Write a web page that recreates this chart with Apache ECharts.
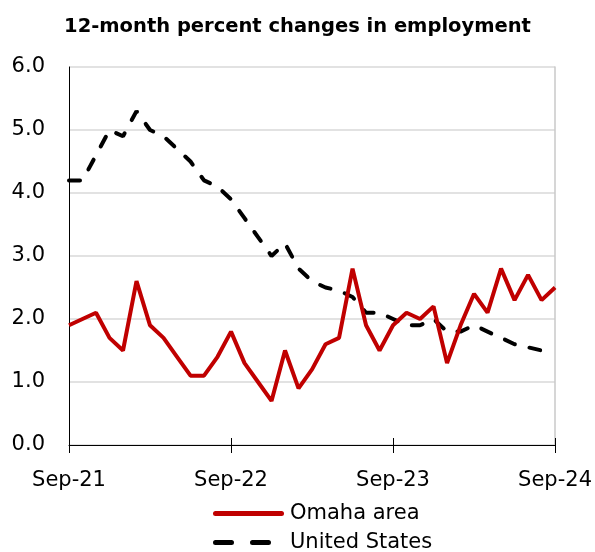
<!DOCTYPE html>
<html>
<head>
<meta charset="utf-8">
<script src="https://cdn.jsdelivr.net/npm/echarts@6/dist/echarts.min.js"></script>
<style>
  html, body { margin: 0; padding: 0; background: #fff; }
  #chart { width: 595px; height: 552px; }
</style>
</head>
<body>
<div id="chart"></div>
<script>
// months Sep-21 .. Sep-24
var months = ['Sep-21','Oct-21','Nov-21','Dec-21','Jan-22','Feb-22','Mar-22','Apr-22','May-22','Jun-22','Jul-22','Aug-22',
    'Sep-22','Oct-22','Nov-22','Dec-22','Jan-23','Feb-23','Mar-23','Apr-23','May-23','Jun-23','Jul-23','Aug-23',
    'Sep-23','Oct-23','Nov-23','Dec-23','Jan-24','Feb-24','Mar-24','Apr-24','May-24','Jun-24','Jul-24','Aug-24','Sep-24'];

var omaha = [1.9, 2.0, 2.1, 1.7, 1.5, 2.6, 1.9, 1.7, 1.4, 1.1, 1.1, 1.4,
    1.8, 1.3, 1.0, 0.7, 1.5, 0.9, 1.2, 1.6, 1.7, 2.8, 1.9, 1.5,
    1.9, 2.1, 2.0, 2.2, 1.3, 1.9, 2.4, 2.1, 2.8, 2.3, 2.7, 2.3, 2.5];

var unitedStates = [4.2, 4.2, 4.6, 5.0, 4.9, 5.3, 5.0, 4.9, 4.7, 4.5, 4.2, 4.1,
    3.9, 3.6, 3.3, 3.0, 3.2, 2.8, 2.6, 2.5, 2.45, 2.35, 2.1, 2.1,
    2.0, 1.9, 1.9, 2.0, 1.8, 1.8, 1.9, 1.8, 1.7, 1.6, 1.55, 1.5, null];

var yTicks = [0, 1, 2, 3, 4, 5, 6];

var font = '"DejaVu Sans", sans-serif';

var myChart = echarts.init(document.getElementById('chart'));

var option = {
    animation: false,
    title: {
        text: '12-month percent changes in employment',
        left: 'center',
        top: 12,
        textStyle: { fontFamily: font, fontSize: 19.5, fontWeight: 'bold', color: '#000' }
    },
    legend: {
        orient: 'vertical',
        left: 208,
        top: 498,
        height: 60,
        itemWidth: 71,
        itemHeight: 5,
        itemGap: 8,
        textStyle: { fontFamily: font, fontSize: 21, color: '#000', padding: [0, 0, 0, 1] },
        data: [
            { name: 'Omaha area', icon: 'path://M2.5,0h66a2.5,2.5 0 0 1 0,5h-66a2.5,2.5 0 0 1 0,-5z' },
            { name: 'United States', icon: 'path://M2.5,0h16a2.5,2.5 0 0 1 0,5h-16a2.5,2.5 0 0 1 0,-5zM39.5,0h16a2.5,2.5 0 0 1 0,5h-16a2.5,2.5 0 0 1 0,-5zM71,0h0v5h0z' }
        ]
    },
    grid: { left: 69, right: 39, top: 67, bottom: 107 },
    xAxis: [{
        type: 'category',
        data: months,
        boundaryGap: false,
        axisLine: { lineStyle: { color: '#000', width: 1 } },
        axisTick: {
            length: 8,
            interval: function (i) { return i % 12 === 0; },
            lineStyle: { color: '#000' }
        },
        axisLabel: {
            interval: function (i) { return i % 12 === 0; },
            fontFamily: font, fontSize: 21, color: '#000', margin: 25
        },
        splitLine: { show: false }
    }, {
        // inside half of the crossing ticks
        type: 'category',
        data: months,
        position: 'bottom',
        boundaryGap: false,
        axisLine: { show: false },
        axisTick: {
            inside: true,
            length: 7,
            interval: function (i) { return i % 12 === 0; },
            lineStyle: { color: '#000' }
        },
        axisLabel: { show: false }
    }],
    yAxis: [{
        type: 'value',
        min: yTicks[0],
        max: yTicks[yTicks.length - 1],
        interval: 1,
        axisLine: { show: true, lineStyle: { color: '#000' } },
        axisTick: { show: false },
        axisLabel: {
            fontFamily: font, fontSize: 21, color: '#000', margin: 24,
            formatter: function (v) { return v.toFixed(1); }
        },
        splitLine: { lineStyle: { color: '#d9d9d9', width: 1.5 } }
    }, {
        // right border of plot area
        type: 'value',
        position: 'right',
        min: 0, max: 6, interval: 1,
        axisLine: { show: true, lineStyle: { color: '#c8c8c8', width: 1.5 } },
        axisTick: { show: false },
        axisLabel: { show: false },
        splitLine: { show: false }
    }],
    series: [{
        name: 'Omaha area',
        type: 'line',
        data: omaha,
        symbol: 'none',
        lineStyle: { color: '#c00000', width: 4 },
        itemStyle: { color: '#c00000' },
        z: 3
    }, {
        name: 'United States',
        type: 'line',
        data: unitedStates,
        symbol: 'none',
        lineStyle: { color: '#000', width: 4, type: [11, 15], cap: 'round' },
        itemStyle: { color: '#000' },
        z: 2
    }]
};
myChart.setOption(option);
</script>
</body>
</html>
